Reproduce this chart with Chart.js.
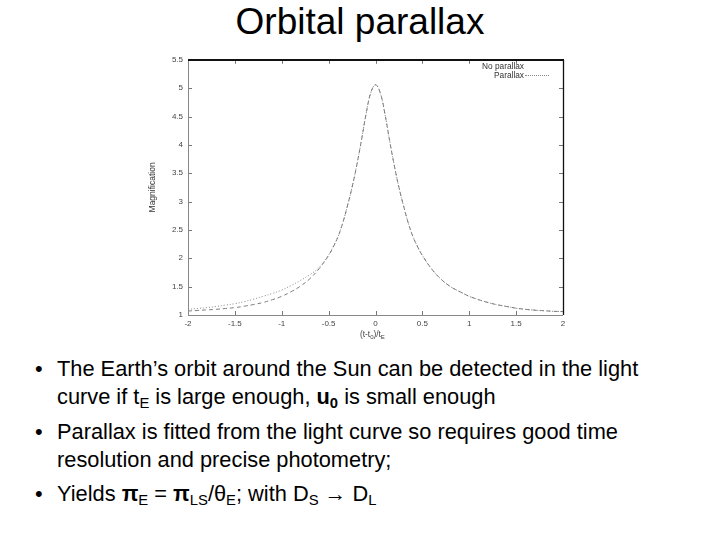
<!DOCTYPE html>
<html>
<head>
<meta charset="utf-8">
<script src="https://cdn.jsdelivr.net/npm/chart.js@4"></script>
<style>
  html, body { margin: 0; padding: 0; background: #fff; }
  body { width: 720px; height: 540px; position: relative; overflow: hidden; font-family: "Liberation Sans", Arial, sans-serif; color: #000; }
  #title { position: absolute; left: 0; width: 720px; top: -2px; text-align: center; font-size: 37px; line-height: 48px; }
  #chartBox { position: absolute; left: 140px; top: 50px; width: 430px; height: 300px; }
  .line { position: absolute; left: 57px; font-size: 21.8px; line-height: 26px; white-space: nowrap; }
  .bullet { position: absolute; left: -22px; }
  sub { font-size: 0.68em; vertical-align: -0.25em; line-height: 0; }
  #legend { position: absolute; left: 440px; top: 60px; width: 120px; font-size: 8.3px; color: #333; }
  .lg { position: absolute; right: 0; white-space: nowrap; }
  .xt { position: absolute; left: 360px; top: 329px; font-size: 8.3px; color: #444; }
  .xt sub { font-size: 6px; vertical-align: -2px; }
</style>
</head>
<body>
<div id="title">Orbital parallax</div>
<div id="chartBox"><canvas id="c" width="430" height="300"></canvas></div>
<div id="legend">
  <div class="lg" style="top:1px; right:36px;">No parallax</div>
  <div class="lg" style="top:10px; right:36px;">Parallax</div>
  <div style="position:absolute; right:11px; top:15px; width:24px; border-top:1px dotted #888;"></div>
</div>
<div class="xt">(t-t<sub>0</sub>)/t<sub>E</sub></div>

<div class="line" style="top:356px;"><span class="bullet">•</span>The Earth’s orbit around the Sun can be detected in the light</div>
<div class="line" style="top:384px;">curve if t<sub>E</sub> is large enough, <b>u<sub>0</sub></b> is small enough</div>
<div class="line" style="top:419px;"><span class="bullet">•</span>Parallax is fitted from the light curve so requires good time</div>
<div class="line" style="top:447px;">resolution and precise photometry;</div>
<div class="line" style="top:481px;"><span class="bullet">•</span>Yields <b>π</b><sub>E</sub> = <b>π</b><sub>LS</sub>/θ<sub>E</sub>; with D<sub>S</sub> → D<sub>L</sub></div>

<script>
// Time axis (t - t0)/tE
const tValues = [-2.0,-1.9,-1.8,-1.7,-1.6,-1.5,-1.4,-1.3,-1.2,-1.1,-1.0,-0.9,-0.8,-0.7,-0.6,-0.5,-0.45,-0.4,-0.35,-0.3,-0.25,-0.2,-0.15,-0.1,-0.05,
                 0.0,0.05,0.1,0.15,0.2,0.25,0.3,0.35,0.4,0.45,0.5,0.6,0.7,0.8,0.9,1.0,1.1,1.2,1.3,1.4,1.5,1.6,1.7,1.8,1.9,2.0];
// Magnification without parallax
const noParallax = [1.07,1.08,1.09,1.10,1.115,1.13,1.155,1.185,1.22,1.27,1.33,1.41,1.51,1.64,1.82,2.05,2.20,2.38,2.62,2.92,3.25,3.64,4.08,4.55,4.92,
                    5.06,4.92,4.55,4.08,3.64,3.25,2.92,2.62,2.38,2.20,2.05,1.81,1.63,1.50,1.41,1.33,1.27,1.22,1.18,1.15,1.12,1.10,1.085,1.075,1.065,1.06];
// Magnification with parallax
const parallax = [1.10,1.115,1.13,1.15,1.175,1.20,1.235,1.28,1.33,1.38,1.44,1.52,1.61,1.71,1.84,2.06,2.21,2.38,2.62,2.92,3.25,3.64,4.08,4.55,4.92,
                  5.06,4.92,4.55,4.08,3.64,3.25,2.92,2.62,2.38,2.20,2.05,1.81,1.63,1.50,1.41,1.33,1.27,1.22,1.18,1.15,1.12,1.10,1.085,1.075,1.065,1.06];
const xTickLabels = ['-2','-1.5','-1','-0.5','0','0.5','1','1.5','2'];
const yTickLabels = ['1','1.5','2','2.5','3','3.5','4','4.5','5','5.5'];

const pts = (ys) => tValues.map((t, i) => ({ x: t, y: ys[i] }));

const framePlugin = {
  id: 'frame',
  afterDraw(chart) {
    const ctx = chart.ctx;
    const { left, right, top, bottom } = chart.chartArea;
    const xs = chart.scales.x, ys = chart.scales.y;
    ctx.save();
    ctx.strokeStyle = '#777';
    ctx.lineWidth = 1;
    ctx.beginPath();
    xs.ticks.forEach(tk => {
      const px = Math.round(xs.getPixelForValue(tk.value)) + 0.5;
      ctx.moveTo(px, bottom); ctx.lineTo(px, bottom - 4);
      ctx.moveTo(px, top); ctx.lineTo(px, top + 4);
    });
    ys.ticks.forEach(tk => {
      const py = Math.round(ys.getPixelForValue(tk.value)) + 0.5;
      ctx.moveTo(left, py); ctx.lineTo(left + 4, py);
      ctx.moveTo(right, py); ctx.lineTo(right - 4, py);
    });
    ctx.stroke();
    ctx.strokeStyle = '#888';
    ctx.lineWidth = 1;
    ctx.beginPath();
    ctx.moveTo(Math.round(left) + 0.5, top); ctx.lineTo(Math.round(left) + 0.5, bottom);
    ctx.moveTo(left, Math.round(bottom) + 0.5); ctx.lineTo(right, Math.round(bottom) + 0.5);
    ctx.stroke();
    ctx.strokeStyle = '#111';
    ctx.lineWidth = 2;
    ctx.beginPath();
    ctx.moveTo(left, Math.round(top)); ctx.lineTo(right + 1, Math.round(top));
    ctx.stroke();
    ctx.lineWidth = 1.3;
    ctx.beginPath();
    ctx.moveTo(Math.round(right) + 0.5, top); ctx.lineTo(Math.round(right) + 0.5, bottom);
    ctx.stroke();
    ctx.restore();
  }
};

new Chart(document.getElementById('c'), {
  type: 'line',
  data: {
    datasets: [
      { label: 'No parallax', data: pts(noParallax), borderColor: '#7c7c7c', borderWidth: 1, borderDash: [4, 3], pointRadius: 0, tension: 0.4, fill: false },
      { label: 'Parallax', data: pts(parallax), borderColor: '#888', borderWidth: 1, borderDash: [1, 2], pointRadius: 0, tension: 0.4, fill: false }
    ]
  },
  options: {
    responsive: false,
    animation: false,
    layout: { padding: { top: 8, right: 7, left: 0, bottom: 0 } },
    plugins: { legend: { display: false }, tooltip: { enabled: false } },
    scales: {
      x: {
        type: 'linear', min: -2, max: 2,
        afterBuildTicks(s) { s.ticks = xTickLabels.map(v => ({ value: parseFloat(v) })); },
        ticks: { callback: (v, i) => xTickLabels[i], font: { size: 8, family: 'Liberation Sans' }, color: '#444', padding: 4, maxRotation: 0, autoSkip: false },
        grid: { display: false, drawTicks: false },
        border: { display: false },
        afterFit(s) { s.height = 35; }
      },
      y: {
        type: 'linear', min: 1, max: 5.5,
        afterBuildTicks(s) { s.ticks = yTickLabels.map(v => ({ value: parseFloat(v) })); },
        ticks: { callback: (v, i) => yTickLabels[i], font: { size: 8, family: 'Liberation Sans' }, color: '#444', padding: 5, autoSkip: false },
        grid: { display: false, drawTicks: false },
        border: { display: false },
        title: { display: true, text: 'Magnification', font: { size: 8.5, family: 'Liberation Sans' }, color: '#333', padding: { top: 8, bottom: 0 } },
        afterFit(s) { s.width = 48; }
      }
    }
  },
  plugins: [framePlugin]
});
</script>
</body>
</html>
